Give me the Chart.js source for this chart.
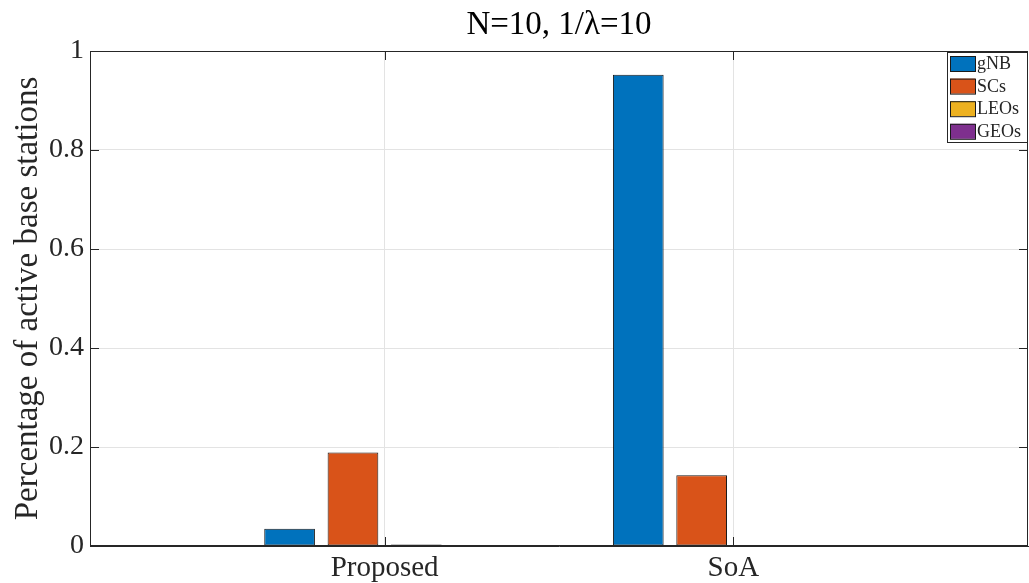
<!DOCTYPE html>
<html>
<head>
<meta charset="utf-8">
<script src="https://cdn.jsdelivr.net/npm/chart.js@4.4.1/dist/chart.umd.min.js"></script>
<style>
  body { margin: 0; background: #fff; }
  #wrap { width: 1029px; height: 583px; position: relative; }
</style>
</head>
<body>
<div id="wrap"><canvas id="barChart"></canvas></div>
<script>
// categories and values
var categories = ['Proposed', 'SoA'];
var gnbVals = [0.035, 0.952];
var scVals = [0.189, 0.143];
var leoVals = [0.003, 0.001];
var geoVals = [0.001, 0.001];
var yTicks = [0, 0.2, 0.4, 0.6, 0.8, 1];
var titleText = 'N=10, 1/\u03bb=10';

var serif = "'Liberation Serif', 'DejaVu Serif', serif";
var edge = '#1a1a1a';

function toPoints(vals) {
    return vals.map(function (v, i) { return { x: i + 1, y: v }; });
}

// box round the axes, inward ticks, title over the axes and the legend in the corner
var boxPlugin = {
    id: 'boxPlugin',
    afterDatasetsDraw: function (chart) {
        var ctx = chart.ctx;
        var a = chart.chartArea;
        var xs = chart.scales.x, ys = chart.scales.y;
        ctx.save();
        ctx.strokeStyle = '#262626';
        ctx.lineWidth = 1;
        ctx.strokeRect(a.left + 0.5, a.top + 0.5, a.right - a.left - 1, a.bottom - a.top - 1);
        ctx.beginPath();
        yTicks.forEach(function (t) {
            var py = Math.round(ys.getPixelForValue(t)) + 0.5;
            ctx.moveTo(a.left, py); ctx.lineTo(a.left + 9, py);
            ctx.moveTo(a.right, py); ctx.lineTo(a.right - 9, py);
        });
        categories.forEach(function (c, i) {
            var px = Math.round(xs.getPixelForValue(i + 1)) + 0.5;
            ctx.moveTo(px, a.bottom); ctx.lineTo(px, a.bottom - 9);
            ctx.moveTo(px, a.top); ctx.lineTo(px, a.top + 9);
        });
        ctx.stroke();

        // title
        ctx.fillStyle = '#000';
        ctx.font = '33px ' + serif;
        ctx.textAlign = 'center';
        ctx.textBaseline = 'middle';
        ctx.fillText(titleText, (a.left + a.right) / 2, 25);

        // legend
        var lx = 947, ly = 52, lw = 80, lh = 90;
        ctx.fillStyle = '#fff';
        ctx.fillRect(lx, ly, lw, lh);
        ctx.strokeStyle = '#262626';
        ctx.strokeRect(lx + 0.5, ly + 0.5, lw, lh);
        ctx.font = '18px ' + serif;
        ctx.textAlign = 'left';
        chart.data.datasets.forEach(function (ds, i) {
            var sy = 56 + i * 22.6;
            ctx.fillStyle = ds.backgroundColor;
            ctx.fillRect(950, sy, 25, 15);
            ctx.strokeStyle = edge;
            ctx.strokeRect(950.5, sy + 0.5, 25, 15);
            ctx.fillStyle = '#262626';
            ctx.fillText(ds.label, 977, sy + 8.5);
        });
        ctx.restore();
    }
};

var ctx = document.getElementById('barChart').getContext('2d');
var myChart = new Chart(ctx, {
    type: 'bar',
    data: {
        datasets: [
            { label: 'gNB', data: toPoints(gnbVals), backgroundColor: '#0072BD', borderColor: edge },
            { label: 'SCs', data: toPoints(scVals), backgroundColor: '#D95319', borderColor: edge },
            { label: 'LEOs', data: toPoints(leoVals), backgroundColor: '#EDB120', borderColor: edge },
            { label: 'GEOs', data: toPoints(geoVals), backgroundColor: '#7E2F8E', borderColor: edge }
        ]
    },
    options: {
        responsive: true,
        maintainAspectRatio: false,
        animation: false,
        datasets: {
            bar: {
                borderWidth: 1,
                borderSkipped: false,
                categoryPercentage: 0.727,
                barPercentage: 0.8
            }
        },
        layout: { padding: { left: 0, right: 1, top: 51, bottom: 0 } },
        plugins: {
            legend: { display: false },
            tooltip: { enabled: false },
            title: { display: false }
        },
        scales: {
            x: {
                type: 'linear',
                offset: false,
                min: 0.155,
                max: 2.845,
                afterBuildTicks: function (scale) {
                    scale.ticks = categories.map(function (c, i) { return { value: i + 1 }; });
                },
                afterFit: function (scale) { scale.height = 37; },
                ticks: {
                    color: '#262626',
                    padding: 5,
                    maxRotation: 0,
                    font: { family: serif, size: 29 },
                    callback: function (v) { return categories[v - 1]; }
                },
                grid: { color: '#e3e3e3', drawTicks: false, offset: false },
                border: { color: '#262626' }
            },
            y: {
                min: 0,
                max: 1,
                afterBuildTicks: function (scale) {
                    scale.ticks = yTicks.map(function (t) { return { value: t }; });
                },
                afterFit: function (scale) { scale.width = 90; },
                ticks: {
                    color: '#262626',
                    padding: 6,
                    font: { family: serif, size: 28 },
                    callback: function (v) { return String(v); }
                },
                grid: { color: '#e3e3e3', drawTicks: false },
                border: { color: '#262626' },
                title: {
                    display: true,
                    text: 'Percentage of active base stations',
                    color: '#262626',
                    font: { family: serif, size: 33 },
                    padding: { top: 9, bottom: 0 }
                }
            }
        }
    },
    plugins: [boxPlugin]
});
</script>
</body>
</html>
